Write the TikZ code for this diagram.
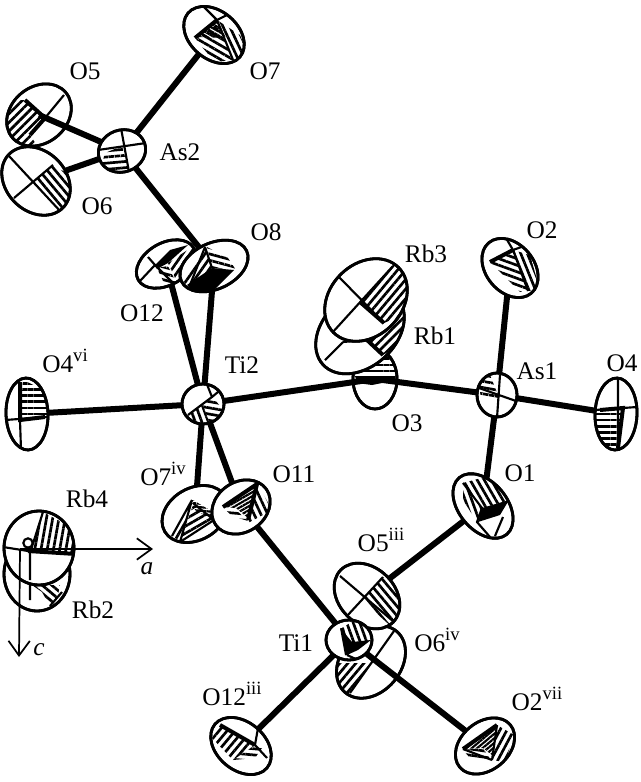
\documentclass[tikz,border=0pt]{standalone}
\usepackage{fontspec}
\setmainfont{Liberation Serif}
\usetikzlibrary{shapes.geometric,patterns.meta,arrows.meta}

\tikzset{
  atom/.style={ellipse,draw,fill=white,line width=2.1pt,inner sep=0pt,outer sep=0pt},
  rim/.style={line width=2.1pt},
  bond/.style={line width=4.5pt},
  axisline/.style={line width=1.6pt},
  darkline/.style={line width=3pt},
  axis/.style={->,>={Straight Barb[length=11pt,width=16pt]},line width=1.3pt},
  lbl/.style={anchor=base,inner sep=0pt,font=\fontsize{19}{21}\selectfont},
}
\newcommand{\sitesup}[1]{\raisebox{.42em}{\fontsize{14}{15}\selectfont #1}}
\newcommand{\hatched}[2]{\fill[pattern={Lines[angle=#1,distance=4.6pt,line width=2pt]}] #2;}
\newcommand{\dense}[2]{\fill[pattern={Lines[angle=#1,distance=2.6pt,line width=1.6pt]}] #2;}
% name, x, y, long radius, short radius, tilt, inside of the ellipse
\newcommand{\atomat}[7]{%
  \node[atom,minimum width=#4*1.5pt,minimum height=#5*1.5pt,rotate=#6] (#1) at (#2,#3) {};
  \begin{scope}
    \clip[rotate around={#6:(#2,#3)}] (#2,#3) ellipse [x radius=#4,y radius=#5];
    #7
  \end{scope}
  \draw[rim,rotate around={#6:(#2,#3)}] (#2,#3) ellipse [x radius=#4,y radius=#5];
}

\begin{document}
\begin{tikzpicture}[x=0.75pt,y=-0.75pt]
\useasboundingbox (0,0) rectangle (640,782);

% As2 and its oxygens
\atomat{o7}{214}{35}{34}{24}{-40}{
  \hatched{-30}{(217,24)--(196,40)--(215,62)--(233,60)--cycle}
  \hatched{-65}{(217,20)--(233,60)--(250,60)--(240,35)--cycle}
  \dense{-30}{(217,20)--(196,37)--(226,38)--cycle}
  \draw[darkline] (217,20)--(195,38);
  \draw[axisline] (204,7)--(217,20)--(233,12) (217,20)--(233,60);
}
\atomat{o5}{39}{115}{35}{28}{40}{
  \hatched{45}{(25,100)--(45,118)--(30,135)--(40,150)--(0,150)--(0,100)--cycle}
  \draw[darkline] (25,100)--(45,118)--(30,135);
  \draw[axisline] (45,118)--(64,95);
}
\atomat{o6}{36}{181}{38}{30}{-45}{
  \hatched{-50}{(33,182)--(52,165)--(80,180)--(70,220)--(61,212)--cycle}
  \draw[axisline] (9,156)--(61,212) (14,198)--(53,165);
}
\atomat{as2}{122}{151}{24}{21}{20}{
  \hatched{5}{(122,146)--(105,153)--(100,170)--(130,175)--cycle}
  \draw[axisline] (121,128)--(129,172) (98,150)--(146,143);
}
\atomat{o12}{166}{264}{32}{21}{30}{
  \hatched{55}{(168,263)--(192,247)--(196,255)--(177,282)--cycle}
  \hatched{-15}{(157,268)--(168,266)--(178,286)--(165,285)--cycle}
  \fill (155,265)--(170,250)--(188,245)--(168,263)--(157,269)--cycle;
  \draw[axisline] (140,281)--(155,265)--(148,257) (155,265)--(178,288);
}
\atomat{o8}{214}{266}{36}{23}{25}{
  \hatched{55}{(205,247)--(212,268)--(190,288)--(182,280)--cycle}
  \hatched{-15}{(207,247)--(228,258)--(236,270)--(212,268)--cycle}
  \fill (187,285)--(212,268)--(234,270)--(214,290)--(195,292)--cycle;
  \draw[axisline] (205,247)--(212,268) (205,247)--(190,285);
}

% Rb1, Rb3 and O3
\atomat{o3}{375}{379}{30}{22}{90}{
  \hatched{0}{(358,378)--(372,355)--(398,355)--(398,379)--cycle}
  \fill (355,376)--(390,376)--(392,381)--(372,385)--(357,383)--cycle;
}
\atomat{rb1}{360}{331}{50}{36}{42}{
  \hatched{45}{(367,340)--(383,355)--(415,335)--(415,290)--(385,295)--cycle}
  \draw[darkline] (367,340)--(383,355);
  \draw[axisline] (343,342)--(325,360) (343,342)--(367,340);
}
\atomat{rb3}{366}{300}{46}{36}{45}{
  \hatched{50}{(360,302)--(393,265)--(415,265)--(415,310)--(384,323)--cycle}
  \draw[darkline] (360,302)--(384,323);
  \draw[axisline] (339,277)--(384,323) (332,333)--(393,266);
}

% As1 and its oxygens
\atomat{o2}{510}{268}{33}{24}{-50}{
  \hatched{-20}{(513,250)--(490,262)--(520,292)--(528,291)--cycle}
  \hatched{-68}{(513,250)--(528,291)--(540,290)--(530,255)--cycle}
  \draw[darkline] (513,250)--(490,262);
  \draw[axisline] (506,238)--(513,250)--(527,245) (513,250)--(528,291);
}
\atomat{as1}{497}{395}{22}{20}{90}{
  \hatched{-10}{(490,375)--(500,400)--(481,398)--(478,380)--cycle}
  \draw[axisline] (500,375)--(497,418) (479,388)--(516,401);
}
\atomat{o4}{616}{414}{36}{21}{88}{
  \hatched{0}{(600,410)--(623,408)--(617,450)--(590,450)--(590,412)--cycle}
  \draw[darkline] (600,410)--(623,408)--(618,448);
  \draw[axisline] (595,410)--(637,407) (618,378)--(618,448);
}

% Ti2 and its oxygens
\atomat{o4vi}{27}{414}{36}{21}{92}{
  \hatched{0}{(23,380)--(44,390)--(50,417)--(20,420)--cycle}
  \draw[darkline] (20,382)--(20,420)--(45,417);
  \draw[axisline] (5,420)--(47,417) (20,420)--(21,450);
}
\atomat{ti2}{203}{404}{21}{20}{0}{
  \hatched{-70}{(188,415)--(203,405)--(212,430)--(195,428)--cycle}
  \hatched{-10}{(203,405)--(212,397)--(224,410)--(212,430)--cycle}
  \draw[axisline] (188,415)--(212,397)--(224,387) (212,397)--(206,382);
}
\atomat{o7iv}{195}{514}{35}{26}{30}{
  \hatched{60}{(192,500)--(172,535)--(180,542)--cycle}
  \hatched{30}{(193,505)--(214,520)--(180,542)--cycle}
  \dense{-5}{(193,500)--(213,512)--(214,520)--(195,510)--cycle}
  \draw[axisline] (192,500)--(172,536) (192,500)--(180,542) (193,503)--(214,520)--(180,542);
}
\atomat{o11}{241}{507}{31}{25}{35}{
  \hatched{-65}{(257,483)--(272,510)--(248,523)--cycle}
  \hatched{-5}{(223,507)--(236,510)--(248,521)--(232,516)--cycle}
  \dense{30}{(223,507)--(257,484)--(248,518)--(236,508)--cycle}
  \draw[darkline] (223,507)--(257,484)--(248,520);
}
\atomat{o1}{483}{506}{37}{24}{-50}{
  \hatched{-60}{(463,483)--(492,475)--(510,500)--(482,508)--cycle}
  \hatched{-70}{(463,483)--(482,508)--(477,522)--(463,500)--cycle}
  \fill (482,508)--(509,500)--(500,515)--(478,522)--cycle;
  \draw[axisline] (463,483)--(482,508)--(477,522)--(490,537) (503,517)--(495,536);
}

% Ti1 and its oxygens
\atomat{o6iv}{371}{662}{40}{30}{50}{
  \hatched{50}{(338,663)--(370,663)--(350,695)--(330,690)--cycle}
  \draw[axisline] (394,631)--(350,693);
}
\atomat{o5iii}{367}{596}{37}{28}{-45}{
  \hatched{-50}{(362,600)--(382,578)--(410,590)--(395,630)--cycle}
  \draw[axisline] (340,576)--(394,622) (347,616)--(383,577);
}
\atomat{ti1}{349}{640}{23}{20}{0}{
  \hatched{-70}{(342,628)--(358,618)--(372,640)--(350,648)--cycle}
  \fill (342,630)--(347,655)--(358,650)--(371,640)--(352,642)--cycle;
  \draw[darkline] (342,628)--(347,655);
  \draw[axisline] (347,655)--(358,660);
}
\atomat{o12iii}{241}{746}{34}{24}{-40}{
  \hatched{50}{(220,725)--(255,745)--(233,760)--(212,738)--cycle}
  \hatched{-5}{(255,745)--(233,760)--(255,758)--(262,748)--cycle}
  \draw[darkline] (220,725)--(255,745);
  \draw[axisline] (255,745)--(267,758) (255,745)--(258,728);
}
\atomat{o2vii}{485}{746}{33}{24}{40}{
  \hatched{62}{(497,725)--(514,735)--(505,762)--(492,760)--cycle}
  \hatched{-8}{(463,750)--(483,748)--(492,762)--(470,758)--cycle}
  \dense{40}{(463,749)--(497,725)--(492,755)--(483,748)--cycle}
  \draw[darkline] (463,749)--(497,725);
  \draw[axisline] (463,749)--(492,760) (497,725)--(492,760);
}

% Rb2, Rb4 and the cell axes
\atomat{rb2}{37}{574}{37}{33}{90}{
  \hatched{-40}{(32,585)--(60,585)--(58,595)--(50,606)--(42,592)--cycle}
  \draw[axisline] (30,570)--(30,600) (62,592)--(50,606);
}
\atomat{rb4}{39}{548}{37}{35}{90}{
  \hatched{80}{(43,512)--(76,530)--(76,553)--(28,552)--cycle}
  \draw[darkline] (28,551)--(76,554);
  \draw[axisline] (3,547)--(28,551) (43,512)--(30,553)--(30,580);
}
\node[circle,draw,fill=white,line width=1.6pt,inner sep=0pt,minimum size=7pt] (origin) at (28,543) {};
\coordinate (axes) at (20,549);
\coordinate (aend) at (153,549);
\coordinate (cend) at (19,657);
\draw[axis] (axes) -- (aend);
\draw[axis] (axes) -- (cend);

% bonds
\draw[bond] (o7) -- (as2);
\draw[bond] (o5.center) -- (as2);
\draw[bond] (o6) -- (as2);
\draw[bond] (as2) -- (o8);
\draw[bond] (o12) -- (ti2);
\draw[bond] (o8) -- (ti2);
\draw[bond] (o4vi) -- (ti2);
\draw[bond] (ti2) -- (o3.center);
\draw[bond] (o3.center) -- (as1);
\draw[bond] (o2) -- (as1);
\draw[bond] (as1) -- (o4);
\draw[bond] (as1) -- (o1);
\draw[bond] (ti2) -- (o7iv);
\draw[bond] (ti2) -- (o11);
\draw[bond] (o11) -- (ti1);
\draw[bond] (o1) -- (o5iii);
\draw[bond] (o12iii) -- (ti1);
\draw[bond] (ti1) -- (o2vii);

% labels
\node[lbl] (lo7) at (265,79) {O7};
\node[lbl] (lo5) at (85,79) {O5};
\node[lbl] (las2) at (180,160) {As2};
\node[lbl] (lo6) at (97,214) {O6};
\node[lbl] (lo8) at (266,240) {O8};
\node[lbl] (lo12) at (142,321) {O12};
\node[lbl] (lrb3) at (426,262) {Rb3};
\node[lbl] (lrb1) at (435,344) {Rb1};
\node[lbl] (lo2) at (542,238) {O2};
\node[lbl] (las1) at (537,379) {As1};
\node[lbl] (lo4) at (622,371) {O4};
\node[lbl] (lo3) at (407,431) {O3};
\node[lbl] (lo1) at (520,481) {O1};
\node[lbl] (lti2) at (242,373) {Ti2};
\node[lbl] (lo4vi) at (65,372) {O4\sitesup{vi}};
\node[lbl] (lo7iv) at (163,485) {O7\sitesup{iv}};
\node[lbl] (lo11) at (294,482) {O11};
\node[lbl] (lrb4) at (87,507) {Rb4};
\node[lbl] (lrb2) at (93,618) {Rb2};
\node[lbl] (laxa) at (147,574) {\textit{a}};
\node[lbl] (laxc) at (39,655) {\textit{c}};
\node[lbl] (lti1) at (296,651) {Ti1};
\node[lbl] (lo5iii) at (381,551) {O5\sitesup{iii}};
\node[lbl] (lo6iv) at (437,651) {O6\sitesup{iv}};
\node[lbl] (lo12iii) at (232,705) {O12\sitesup{iii}};
\node[lbl] (lo2vii) at (537,710) {O2\sitesup{vii}};

\end{tikzpicture}
\end{document}
